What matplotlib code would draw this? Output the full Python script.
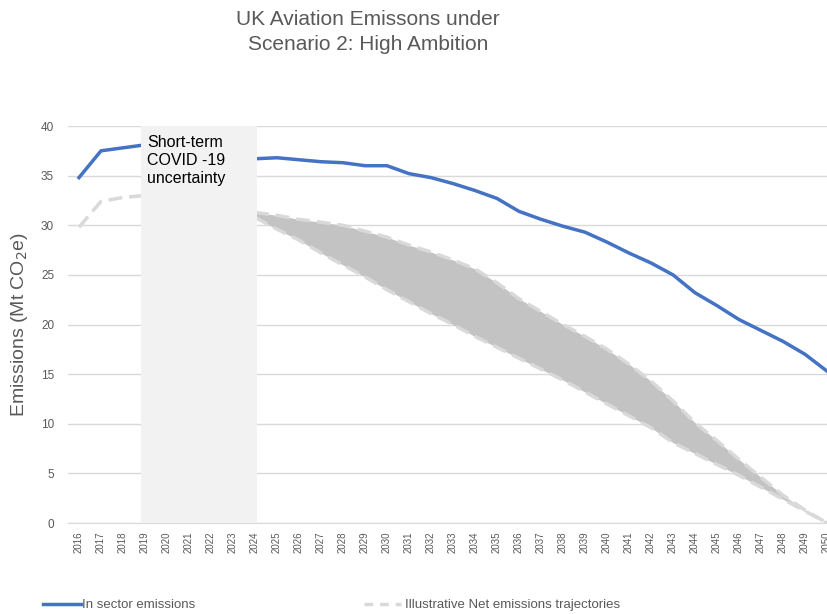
import matplotlib
matplotlib.use("Agg")
import matplotlib.pyplot as plt
from matplotlib.lines import Line2D

plt.rcParams['font.family'] = ['Liberation Sans', 'DejaVu Sans']

years = list(range(2016, 2051))

# In-sector emissions (Mt CO2e)
in_sector = [34.8, 37.5, 37.8, 38.1, 38.0, 37.7, 37.3, 37.0, 36.7, 36.8,
             36.6, 36.4, 36.3, 36.0, 36.0, 35.2, 34.8, 34.2, 33.5, 32.7,
             31.4, 30.6, 29.9, 29.3, 28.3, 27.2, 26.2, 25.0, 23.2, 21.9,
             20.5, 19.4, 18.3, 17.0, 15.3]

# Historic / near-term net emissions (2016-2024)
net_years = list(range(2016, 2025))
net_early = [29.8, 32.4, 32.8, 33.0, 32.6, 32.3, 31.9, 31.6, 31.3]

# Illustrative net emissions trajectories, 2024-2050
traj_years = list(range(2024, 2051))
traj_upper = [31.3, 31.0, 30.6, 30.3, 30.0, 29.4, 28.8, 28.0, 27.3, 26.5,
              25.6, 24.2, 22.6, 21.3, 20.0, 18.8, 17.5, 16.0, 14.3, 12.3,
              10.1, 8.3, 6.4, 4.6, 2.8, 1.3, 0.0]
traj_lower = [30.8, 29.6, 28.5, 27.2, 26.0, 24.8, 23.5, 22.3, 21.1, 20.0,
              18.8, 17.7, 16.6, 15.5, 14.4, 13.2, 12.0, 10.8, 9.6, 8.1,
              7.0, 5.9, 4.8, 3.6, 2.4, 1.2, 0.0]

covid_start, covid_end = 2018.8, 2024.1

BLUE = '#4472c4'
DASH = '#d9d9d9'
TXT = '#595959'

fig = plt.figure(figsize=(8.27, 6.14), dpi=100)
ax = fig.add_axes([68 / 827, 91 / 614, 770 / 827, 397 / 614])

ax.set_xlim(2015.5, 2050.5)
ax.set_ylim(0, 40)

# grid and axis
ax.set_yticks(range(0, 41, 5))
ax.yaxis.grid(True, color='#d9d9d9', lw=1)
ax.set_axisbelow(True)
for s in ['left', 'right', 'top']:
    ax.spines[s].set_visible(False)
ax.spines['bottom'].set_color('#d9d9d9')
ax.tick_params(axis='y', length=0, labelsize=8.5, labelcolor=TXT, pad=10)
ax.tick_params(axis='x', length=0, labelsize=7, labelcolor=TXT, pad=6)
ax.set_xticks(years)
ax.set_xticklabels([str(y) for y in years], rotation=90, va='top')

# trajectory band
ax.fill_between(traj_years, traj_lower, traj_upper, color='#c3c3c3', lw=0, zorder=2)
ax.plot(traj_years, traj_upper, color=DASH, lw=2.5, dashes=(4, 2), zorder=3)
ax.plot(traj_years, traj_lower, color=DASH, lw=2.5, dashes=(4, 2), zorder=3)
ax.plot(net_years, net_early, color=DASH, lw=2.5, dashes=(4, 2), zorder=3)

# in-sector emissions
ax.plot(years, in_sector, color=BLUE, lw=2.5, zorder=4)

# COVID uncertainty box
ax.axvspan(covid_start, covid_end, color='#f2f2f2', lw=0, zorder=5)
ax.text(covid_start + 0.3, 39.1, 'Short-term\nCOVID -19\nuncertainty',
        fontsize=11.5, color='black', va='top', ha='left', zorder=6,
        linespacing=1.25)

ax.set_ylabel('Emissions (Mt CO$_2$e)', fontsize=14, color=TXT, labelpad=8)

fig.text(0.445, 0.948, 'UK Aviation Emissons under\nScenario 2: High Ambition',
         ha='center', va='center', fontsize=15, color=TXT, linespacing=1.35)

# legend
h1 = Line2D([], [], color=BLUE, lw=2.5)
h2 = Line2D([], [], color=DASH, lw=2.5, dashes=(2.5, 2))
leg1 = fig.legend([h1], ['In sector emissions'], loc='center left',
                  bbox_to_anchor=(31 / 827, 1 - 605 / 614), frameon=False,
                  fontsize=9.5, handlelength=2.9, handletextpad=0.1,
                  labelcolor=TXT)
leg2 = fig.legend([h2], ['Illustrative Net emissions trajectories'],
                  loc='center left', bbox_to_anchor=(352 / 827, 1 - 605 / 614),
                  frameon=False, fontsize=9.5, handlelength=2.8,
                  handletextpad=0.3, labelcolor=TXT)

fig.savefig('out.png', dpi=100)
